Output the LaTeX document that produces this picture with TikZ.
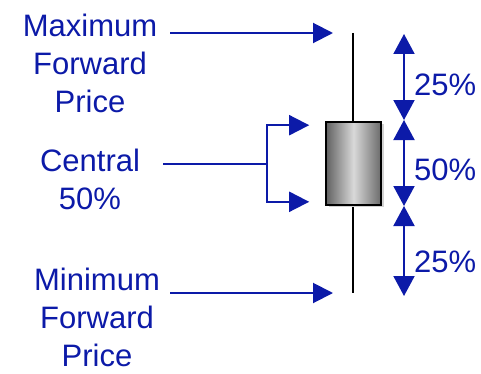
\documentclass[tikz,border=0pt]{standalone}
\usepackage{fontspec}
\setmainfont{Liberation Sans}
\usetikzlibrary{arrows.meta}

\definecolor{lblblue}{RGB}{12,26,168}

\begin{document}
\begin{tikzpicture}[x=1pt,y=1pt,
        lbl/.style={text=lblblue,align=center,inner sep=2pt,font=\fontsize{31}{38}\selectfont},
        bline/.style={draw=lblblue,line width=2pt},
        barrow/.style={bline,-{Triangle[width=20pt,length=20pt]}},
        bdouble/.style={bline,{Triangle[width=21pt,length=20pt]}-{Triangle[width=21pt,length=20pt]}}]
        \useasboundingbox (0,0) rectangle (481,373);
        % whisker and box
        \coordinate (whisktop) at (353,340);
        \coordinate (whiskbot) at (353,80);
        \draw[line width=1.2pt] (whisktop) -- (whiskbot);
        \fill[gray!35] (329,166) rectangle (384,249);
        \shade[left color=black!62,right color=black!58,middle color=black!15] (326,168) rectangle (381,251);
        \node (box) [draw,line width=1.6pt,minimum width=55pt,minimum height=83pt,inner sep=0pt] at (353.5,209.5) {};
        % labels on the left
        \node (maxlbl) [lbl] at (90,310) {Maximum\\Forward\\Price};
        \node (centlbl) [lbl] at (90,194) {Central\\50\%};
        \node (minlbl) [lbl] at (97,56) {Minimum\\Forward\\Price};
        \draw[barrow] (170,0 |- whisktop) -- ([xshift=-20pt]whisktop);
        \draw[barrow] (170,0 |- whiskbot) -- ([xshift=-20pt]whiskbot);
        \draw[bline] (163,0 |- box.center) -- (267,0 |- box.center) coordinate (fork);
        \draw[barrow] (fork) |- ([xshift=-16pt,yshift=-4pt]box.north west);
        \draw[barrow] (fork) |- ([xshift=-16pt,yshift=4pt]box.south west);
        % percentages on the right
        \coordinate (qa) at (404,339);
        \coordinate (qb) at (404,253);
        \coordinate (qc) at (404,167);
        \coordinate (qd) at (404,77);
        \draw[bdouble] (qa) -- (qb);
        \draw[bdouble] (qb) -- (qc);
        \draw[bdouble] (qc) -- (qd);
        \node (pcttop) [lbl,anchor=west] at (412,288) {25\%};
        \node (pctmid) [lbl,anchor=west] at (412,203) {50\%};
        \node (pctbot) [lbl,anchor=west] at (412,111) {25\%};
\end{tikzpicture}
\end{document}
